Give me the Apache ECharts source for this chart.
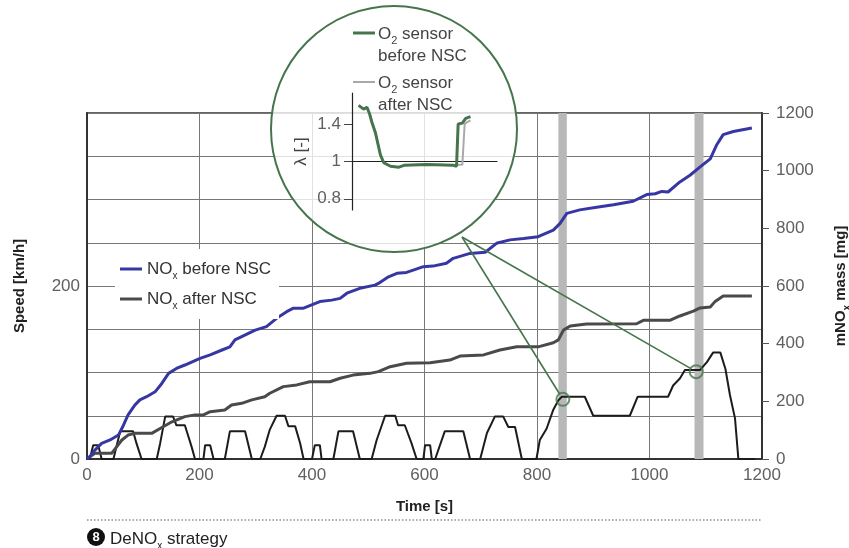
<!DOCTYPE html>
<html><head><meta charset="utf-8">
<script src="https://cdn.jsdelivr.net/npm/echarts@6/dist/echarts.min.js"></script>
<style>html,body{margin:0;padding:0;background:#fff}#c{width:849px;height:548px}</style>
</head><body><div id="c"></div>
<script>
// ---- data ----
const timeTicks = [0, 200, 400, 600, 800, 1000, 1200];
const speedTickLabels = [0, 200];
const massTicks = [0, 200, 400, 600, 800, 1000, 1200];

const speedTime = [0,5,11,20,26,47,59,82,88,97,124,130,139,153,159,174,186,192,207,210,219,225,245,254,281,293,308,316,325,337,352,358,370,379,385,400,405,414,417,438,447,473,485,506,515,530,548,553,565,577,586,598,601,610,613,619,636,669,681,699,711,725,740,749,761,773,799,805,817,829,838,844,885,900,965,979,1033,1042,1054,1063,1090,1102,1113,1126,1135,1143,1152,1158,1188];
const speedKmh  = [0,0,16,16,0,0,32,32,18,0,0,18,49,49,39,39,14,0,0,16,16,0,0,32,32,0,0,14,34,50,50,38,38,18,0,0,16,16,0,0,32,32,0,0,22,50,50,39,39,18,0,0,16,16,0,0,32,32,0,0,30,49,49,37,37,0,0,22,35,57,68,72,72,50,50,72,72,85,93,103,103,112,123,123,104,74,47,0,0];

const noxBeforeTime = [0,5,14,26,41,56,65,73,85,94,106,121,133,145,159,174,201,219,240,254,263,287,299,319,337,355,367,385,414,435,450,462,485,512,518,536,551,568,580,598,615,639,651,681,708,728,752,776,802,829,841,853,876,906,936,971,995,1010,1022,1033,1054,1072,1090,1108,1119,1131,1149,1182];
const noxBeforeMg   = [0,8,31,54,66,83,118,153,187,205,216,233,262,297,314,326,349,361,378,389,413,436,447,459,488,511,523,523,546,551,557,575,592,603,609,632,644,647,655,667,669,679,696,713,717,748,760,765,771,794,817,852,864,873,882,894,917,920,928,926,961,984,1013,1041,1088,1125,1136,1148];

const noxAfterTime = [0,5,14,44,53,62,73,85,115,130,151,174,192,207,219,245,257,275,293,316,325,349,373,396,432,450,473,503,518,539,568,610,645,663,705,734,764,802,829,838,847,859,888,977,989,1036,1054,1078,1090,1108,1116,1131,1182];
const noxAfterMg   = [0,8,20,20,43,66,83,89,89,106,129,147,153,153,164,170,187,193,205,216,228,251,257,268,268,280,291,297,303,320,332,334,343,357,361,378,389,389,403,413,447,461,468,469,481,481,496,513,524,527,545,565,565];

const bandRanges = [[838, 853], [1080, 1096]];
const zoomPoints = [[846, 69], [1083, 101]];

// inset (lambda)
const insetTicks = ['0.8', '1', '1.4'];
const o2BeforeT = [4.6,8,10.3,12.1,13.7,16.1,17.7,19.6,21.9,26.6,32.3,35.9,51.7,70.1,72.1,73.2,76.1,78.4,81.7];
const o2BeforeL = [1.60,1.56,1.58,1.51,1.42,1.31,1.20,1.07,0.993,0.974,0.969,0.979,0.983,0.979,0.974,1.40,1.41,1.46,1.48];
const o2AfterT  = [4.6,8,10.3,12.1,13.7,16.1,17.7,19.6,21.9,26.6,32.3,35.9,51.7,70.1,76.1,77.7,79.4,81.7];
const o2AfterL  = [1.60,1.56,1.58,1.51,1.42,1.31,1.20,1.07,0.993,0.974,0.969,0.979,0.983,0.979,0.983,1.40,1.42,1.44];

// ---- build ----
const zip = (a, b) => a.map((v, i) => [v, b[i]]);
// inset lambda scale: 0.8 / 1 / 1.4 equally spaced
const lamPos = l => l >= 1 ? (l - 1) / 0.4 : (l - 1) / 0.2;
const posLab = {'-1': insetTicks[0], '0': insetTicks[1], '1': insetTicks[2]};

const GREEN = '#46754d';
const FONT = 'Liberation Sans';
const tickFont = { fontFamily: FONT, fontSize: 17, color: '#606060' };
const titleFont = { fontFamily: FONT, fontWeight: 'bold', fontSize: 15, color: '#222' };

const chart = echarts.init(document.getElementById('c'), null, { renderer: 'canvas' });
chart.setOption({
  animation: false,
  backgroundColor: '#fff',
  grid: [
    { left: 87, right: 87, top: 113, bottom: 89, outerBoundsMode: 'none', containLabel: false, show: true, borderColor: '#333', borderWidth: 1.5, backgroundColor: 'transparent' },
    { left: 352, top: 93, width: 145, height: 117, outerBoundsMode: 'none', containLabel: false, show: false }
  ],
  legend: [{
    data: ['NOx before NSC', 'NOx after NSC'],
    orient: 'vertical', left: 115, top: 249,
    padding: [8, 8, 8, 5],
    backgroundColor: '#fff',
    icon: 'rect', itemWidth: 22, itemHeight: 3, itemGap: 6,
    formatter: n => n === 'NOx before NSC' ? 'NO{sub|x} before NSC' : 'NO{sub|x} after NSC',
    textStyle: { fontFamily: FONT, fontSize: 17, color: '#333', lineHeight: 20, rich: { sub: { fontSize: 10, verticalAlign: 'bottom', lineHeight: 24, fontFamily: FONT, color: '#333' } } },
    selectedMode: false
  }],
  xAxis: [
    { type: 'value', gridIndex: 0, min: timeTicks[0], max: timeTicks[timeTicks.length - 1], interval: 200,
      name: 'Time [s]', nameLocation: 'middle', nameGap: 40, nameTextStyle: titleFont,
      axisLine: { show: true, onZero: false, lineStyle: { color: '#333', width: 2 } },
      axisTick: { show: false },
      axisLabel: Object.assign({ margin: 8, formatter: v => String(v) }, tickFont),
      splitLine: { show: true, lineStyle: { color: '#777', width: 1 } } },
    { type: 'value', gridIndex: 1, min: 0, max: 100,
      axisLine: { show: true, onZero: true, lineStyle: { color: '#222', width: 1.2 } },
      axisTick: { show: false }, axisLabel: { show: false }, splitLine: { show: false }, z: 5 }
  ],
  yAxis: [
    { type: 'value', gridIndex: 0, min: 0, max: 400, interval: 50, position: 'left',
      name: 'Speed [km/h]', nameLocation: 'middle', nameGap: 60, nameRotate: 90, nameTextStyle: titleFont,
      axisLine: { show: true, lineStyle: { color: '#333', width: 2 } },
      axisTick: { show: false },
      axisLabel: Object.assign({ margin: 7, formatter: v => speedTickLabels.includes(v) ? String(v) : '' }, tickFont),
      splitLine: { show: true, lineStyle: { color: '#777', width: 1 } } },
    { type: 'value', gridIndex: 0, min: massTicks[0], max: massTicks[massTicks.length - 1], interval: 200, position: 'right',
      name: 'mNO{sub|x} mass [mg]', nameLocation: 'middle', nameGap: 68, nameRotate: 90,
      nameTextStyle: Object.assign({ rich: { sub: { fontSize: 10, fontWeight: 'bold', verticalAlign: 'bottom', lineHeight: 22, fontFamily: FONT } } }, titleFont),
      axisLine: { show: true, lineStyle: { color: '#333', width: 2 } },
      axisTick: { show: true, length: 7, lineStyle: { color: '#555' } },
      axisLabel: Object.assign({ margin: 14, formatter: v => String(v) }, tickFont),
      splitLine: { show: false } },
    { type: 'value', gridIndex: 1, min: -1.3, max: 1.83,
      name: 'λ [-]', nameLocation: 'middle', nameGap: 42, nameRotate: 90,
      nameTextStyle: { fontFamily: FONT, fontSize: 17, color: '#444' },
      axisLine: { show: true, lineStyle: { color: '#222', width: 1.2 } },
      axisTick: { show: true, length: 8, customValues: [-1, 0, 1], lineStyle: { color: '#444' } },
      axisLabel: Object.assign({}, tickFont, { margin: 11, customValues: [-1, 0, 1], formatter: v => posLab[String(Math.round(v))] || '' }),
      splitLine: { show: false }, z: 5 }
  ],
  series: [
    { type: 'line', name: 'bands', xAxisIndex: 0, yAxisIndex: 0, data: [], z: 1, silent: true,
      markArea: { silent: true, itemStyle: { color: '#b8b8b8' },
        data: bandRanges.map(r => [{ xAxis: r[0] }, { xAxis: r[1] }]) } },
    { type: 'line', name: 'Speed', xAxisIndex: 0, yAxisIndex: 0, data: zip(speedTime, speedKmh),
      showSymbol: false, z: 3, lineStyle: { color: '#1c1c1c', width: 2 }, itemStyle: { color: '#1c1c1c' } },
    { type: 'line', name: 'NOx after NSC', xAxisIndex: 0, yAxisIndex: 1, data: zip(noxAfterTime, noxAfterMg),
      showSymbol: false, z: 3, lineStyle: { color: '#4a4a4a', width: 3 }, itemStyle: { color: '#4a4a4a' } },
    { type: 'line', name: 'NOx before NSC', xAxisIndex: 0, yAxisIndex: 1, data: zip(noxBeforeTime, noxBeforeMg),
      showSymbol: false, z: 3, lineStyle: { color: '#3737a3', width: 3 }, itemStyle: { color: '#3737a3' } },
    { type: 'scatter', name: 'zoom', xAxisIndex: 0, yAxisIndex: 0, data: zoomPoints, symbol: 'circle', symbolSize: 13, z: 6,
      itemStyle: { color: 'rgba(0,0,0,0)', borderColor: GREEN, borderWidth: 2 } },
    { type: 'line', name: 'O2 after', xAxisIndex: 1, yAxisIndex: 2, data: zip(o2AfterT, o2AfterL.map(lamPos)),
      showSymbol: false, z: 6, lineStyle: { color: '#a9a9a9', width: 2 } },
    { type: 'line', name: 'O2 before', xAxisIndex: 1, yAxisIndex: 2, data: zip(o2BeforeT, o2BeforeL.map(lamPos)),
      showSymbol: false, z: 7, lineStyle: { color: GREEN, width: 3 } }
  ]
});

// ---- decorations: magnifier, connectors, inset legend, footer ----
const origin = [462, 237];
const conn = zoomPoints.map(p => {
  const c = chart.convertToPixel({ xAxisIndex: 0, yAxisIndex: 0 }, p);
  const dx = c[0] - origin[0], dy = c[1] - origin[1], L = Math.hypot(dx, dy);
  return { type: 'line', z: 5, silent: true,
    shape: { x1: origin[0], y1: origin[1], x2: c[0] - dx / L * 6.5, y2: c[1] - dy / L * 6.5 },
    style: { stroke: GREEN, lineWidth: 1.6 } };
});
const legRich = { sub: { fontSize: 11, verticalAlign: 'bottom', lineHeight: 24, fontFamily: FONT, fill: '#444' } };
chart.setOption({
  graphic: [
    { type: 'circle', z: 1, silent: true, shape: { cx: 394, cy: 129, r: 123 },
      style: { fill: 'rgba(255,255,255,0.78)', stroke: GREEN, lineWidth: 2 } },
    ...conn,
    { type: 'line', z: 8, shape: { x1: 353, y1: 33, x2: 375, y2: 33 }, style: { stroke: GREEN, lineWidth: 3 } },
    { type: 'text', z: 8, x: 378, y: 22, style: { text: 'O{sub|2} sensor\nbefore NSC', fontFamily: FONT, fontSize: 17, lineHeight: 21, fill: '#444', rich: legRich } },
    { type: 'line', z: 8, shape: { x1: 353, y1: 82, x2: 375, y2: 82 }, style: { stroke: '#a9a9a9', lineWidth: 2 } },
    { type: 'text', z: 8, x: 378, y: 71, style: { text: 'O{sub|2} sensor\nafter NSC', fontFamily: FONT, fontSize: 17, lineHeight: 21, fill: '#444', rich: legRich } },
    { type: 'line', z: 8, shape: { x1: 87, y1: 520, x2: 762, y2: 520 }, style: { stroke: '#555', lineWidth: 1, lineDash: [1.5, 2] } },
    { type: 'circle', z: 8, shape: { cx: 96, cy: 537, r: 9 }, style: { fill: '#111' } },
    { type: 'text', z: 9, x: 96, y: 537, style: { text: '8', fontFamily: FONT, fontWeight: 'bold', fontSize: 13, fill: '#fff', align: 'center', verticalAlign: 'middle' } },
    { type: 'text', z: 8, x: 110, y: 527, style: { text: 'DeNO{sub|x} strategy', fontFamily: FONT, fontSize: 17, lineHeight: 21, fill: '#222', rich: { sub: { fontSize: 10, verticalAlign: 'bottom', lineHeight: 24, fontFamily: FONT, fill: '#222' } } } }
  ]
});
</script></body></html>
